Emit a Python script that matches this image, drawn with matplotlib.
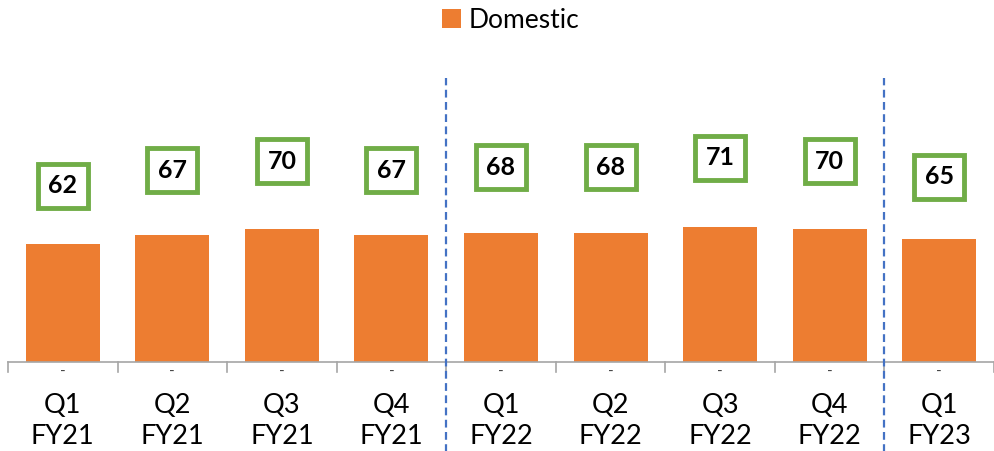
import matplotlib.pyplot as plt
import numpy as np

quarters = ['Q1', 'Q2', 'Q3', 'Q4', 'Q1', 'Q2', 'Q3', 'Q4', 'Q1']
years = ['FY21', 'FY21', 'FY21', 'FY21', 'FY22', 'FY22', 'FY22', 'FY22', 'FY23']
domestic = [62, 67, 70, 67, 68, 68, 71, 70, 65]
fy_breaks = [3.5, 7.5]

plt.rcParams['font.family'] = ['Lato', 'DejaVu Sans']

fig = plt.figure(figsize=(9.94, 4.51), dpi=100)
ax = fig.add_axes([8/994, 89/451, 986/994, 302/451])

x = np.arange(len(domestic))
ax.bar(x, domestic, width=0.675, color='#ED7D31', label='Domestic', zorder=2)
ax.set_xlim(-0.5, len(domestic) - 0.5)
ax.set_ylim(0, 159)

# label boxes sit on their own (hidden) scale above the bars
ax2 = ax.twinx()
ax2.set_ylim(5.2, 102.6)
ax2.axis('off')
for xi, v in zip(x, domestic):
    ax2.text(xi, v, str(v), ha='center', va='center', fontsize=18, fontweight='bold',
             bbox=dict(boxstyle='square,pad=0.42', fc='white', ec='#70AD47', lw=3.5))

# zero-series dashes under each bar
for xi in x:
    ax.text(xi, -1.5, '-', ha='center', va='top', fontsize=11, color='#404040')

# category labels
ax.set_xticks(x)
ax.set_xticklabels([q + '\n' + y for q, y in zip(quarters, years)], fontsize=19.5,
                   linespacing=1.3)
ax.tick_params(axis='x', length=0, pad=22)
ax.set_yticks([])
for s in ['top', 'right', 'left']:
    ax.spines[s].set_visible(False)
ax.spines['bottom'].set_color('#A6A6A6')
ax.spines['bottom'].set_linewidth(1.2)

# boundary ticks between categories
for b in np.arange(-0.5, len(domestic), 1.0):
    ax.plot([b, b], [0, -5.5], color='#A6A6A6', lw=1.2, clip_on=False)

# fiscal year separators
for b in fy_breaks:
    ax.plot([b, b], [-1.0, 0.94], transform=ax.get_xaxis_transform(), color='#4472C4',
            lw=1.6, ls=(0, (3.5, 2.0)), clip_on=False, zorder=3)

fig.legend(loc='center', bbox_to_anchor=(511/994, 1 - 20/451), frameon=False, fontsize=19,
           handlelength=0.7, handleheight=0.7, handletextpad=0.3)

fig.savefig('out.png', dpi=100)
